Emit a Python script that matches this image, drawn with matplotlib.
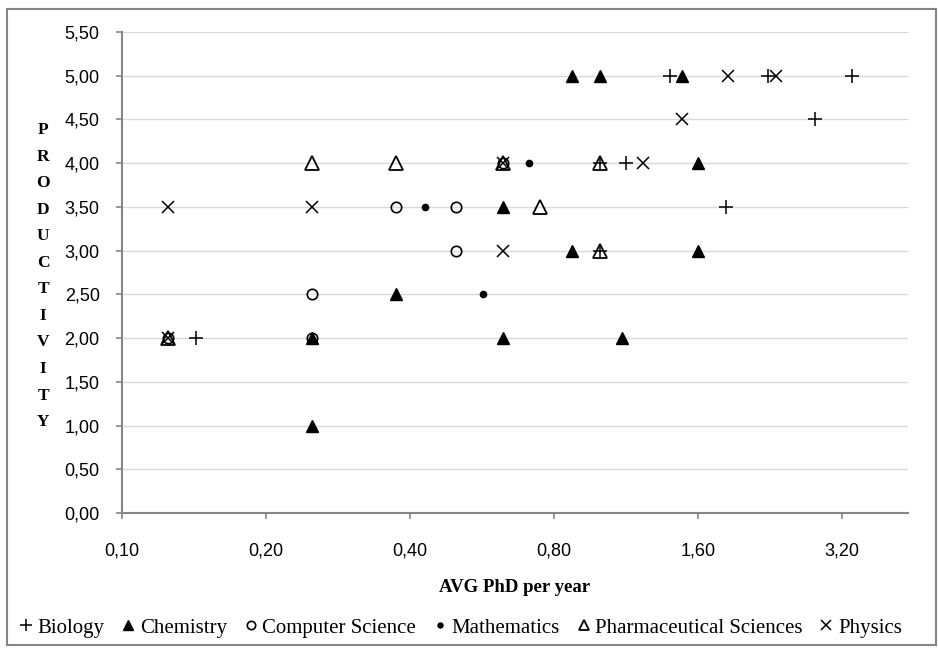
import matplotlib
matplotlib.use('Agg')
import matplotlib.pyplot as plt
from matplotlib.ticker import FuncFormatter, NullLocator
from matplotlib.patches import Rectangle

# AVG PhD per year / productivity
bio_x = [0.143, 1.0, 1.0, 1.13, 1.40, 1.83, 2.24, 2.81, 3.36]
bio_y = [2.0, 4.0, 3.0, 4.0, 5.0, 3.5, 5.0, 4.5, 5.0]
chem_x = [0.25, 0.25, 0.375, 0.625, 0.625, 0.875, 0.875, 1.0, 1.11, 1.48, 1.6, 1.6]
chem_y = [2.0, 1.0, 2.5, 3.5, 2.0, 5.0, 3.0, 5.0, 2.0, 5.0, 4.0, 3.0]
cs_x = [0.125, 0.25, 0.25, 0.375, 0.5, 0.5, 0.625]
cs_y = [2.0, 2.5, 2.0, 3.5, 3.5, 3.0, 4.0]
math_x = [0.43, 0.57, 0.71]
math_y = [3.5, 2.5, 4.0]
pharm_x = [0.125, 0.25, 0.375, 0.625, 0.75, 1.0, 1.0]
pharm_y = [2.0, 4.0, 4.0, 4.0, 3.5, 4.0, 3.0]
phys_x = [0.125, 0.125, 0.25, 0.625, 0.625, 1.23, 1.48, 1.85, 2.33]
phys_y = [3.5, 2.0, 3.5, 4.0, 3.0, 4.0, 4.5, 5.0, 5.0]

xticks = [0.1, 0.2, 0.4, 0.8, 1.6, 3.2]
yticks = [0, 0.5, 1, 1.5, 2, 2.5, 3, 3.5, 4, 4.5, 5, 5.5]

fig = plt.figure(figsize=(9.38, 6.48), dpi=100)
ax = fig.add_axes([0.130, 0.2083, 0.838, 0.7423])

ax.plot(bio_x, bio_y, ls='none', marker='+', ms=10, mew=1.1, color='black', label='Biology')
ax.plot(chem_x, chem_y, ls='none', marker='^', ms=9, color='black', label='Chemistry')
ax.plot(cs_x, cs_y, ls='none', marker='o', ms=7.5, mfc='none', mec='black', mew=1.2, label='Computer Science')
ax.plot(math_x, math_y, ls='none', marker='o', ms=4.5, color='black', label='Mathematics')
ax.plot(pharm_x, pharm_y, ls='none', marker='^', ms=9.5, mfc='none', mec='black', mew=1.3, label='Pharmaceutical Sciences')
ax.plot(phys_x, phys_y, ls='none', marker='x', ms=9, mew=1.1, color='black', label='Physics')

ax.set_xscale('log', base=2)
ax.set_xlim(0.1, 4.4)
ax.set_xticks(xticks)
ax.xaxis.set_minor_locator(NullLocator())
ax.set_ylim(0, 5.5)
ax.set_yticks(yticks)

fmt = FuncFormatter(lambda v, p: ('%.2f' % v).replace('.', ','))
ax.xaxis.set_major_formatter(fmt)
ax.yaxis.set_major_formatter(fmt)

ax.grid(axis='y', color='#d9d9d9', lw=1)
ax.set_axisbelow(True)
for s in ['top', 'right']:
    ax.spines[s].set_visible(False)
for s in ['left', 'bottom']:
    ax.spines[s].set_color('#868686')
    ax.spines[s].set_linewidth(1.5)
ax.tick_params(colors='#868686', length=4, width=1.2, labelcolor='black', labelsize=13)
ax.tick_params(axis='x', pad=17)
ax.tick_params(axis='y', pad=12)
for lab in ax.get_xticklabels() + ax.get_yticklabels():
    lab.set_family('Liberation Sans')

ax.set_xlabel('AVG PhD per year', family='Liberation Serif', fontweight='bold', fontsize=13.5, labelpad=14)
fig.text(0.046, 0.574, '\n'.join('PRODUCTIVITY'), family='Liberation Serif', fontweight='bold',
         fontsize=12.5, ha='center', va='center', linespacing=1.88)

ax.legend(loc='center', bbox_to_anchor=(0.49, 0.031), bbox_transform=fig.transFigure, ncol=6,
          frameon=False, handlelength=0.8, handletextpad=0.15, columnspacing=0.75, markerscale=0.8,
          prop={'family': 'Liberation Serif', 'size': 15})

fig.patches.append(Rectangle((0.0075, 0.005), 0.99, 0.981, transform=fig.transFigure,
                             fill=False, ec='#868686', lw=1.5))

fig.savefig('out.png', dpi=100)
